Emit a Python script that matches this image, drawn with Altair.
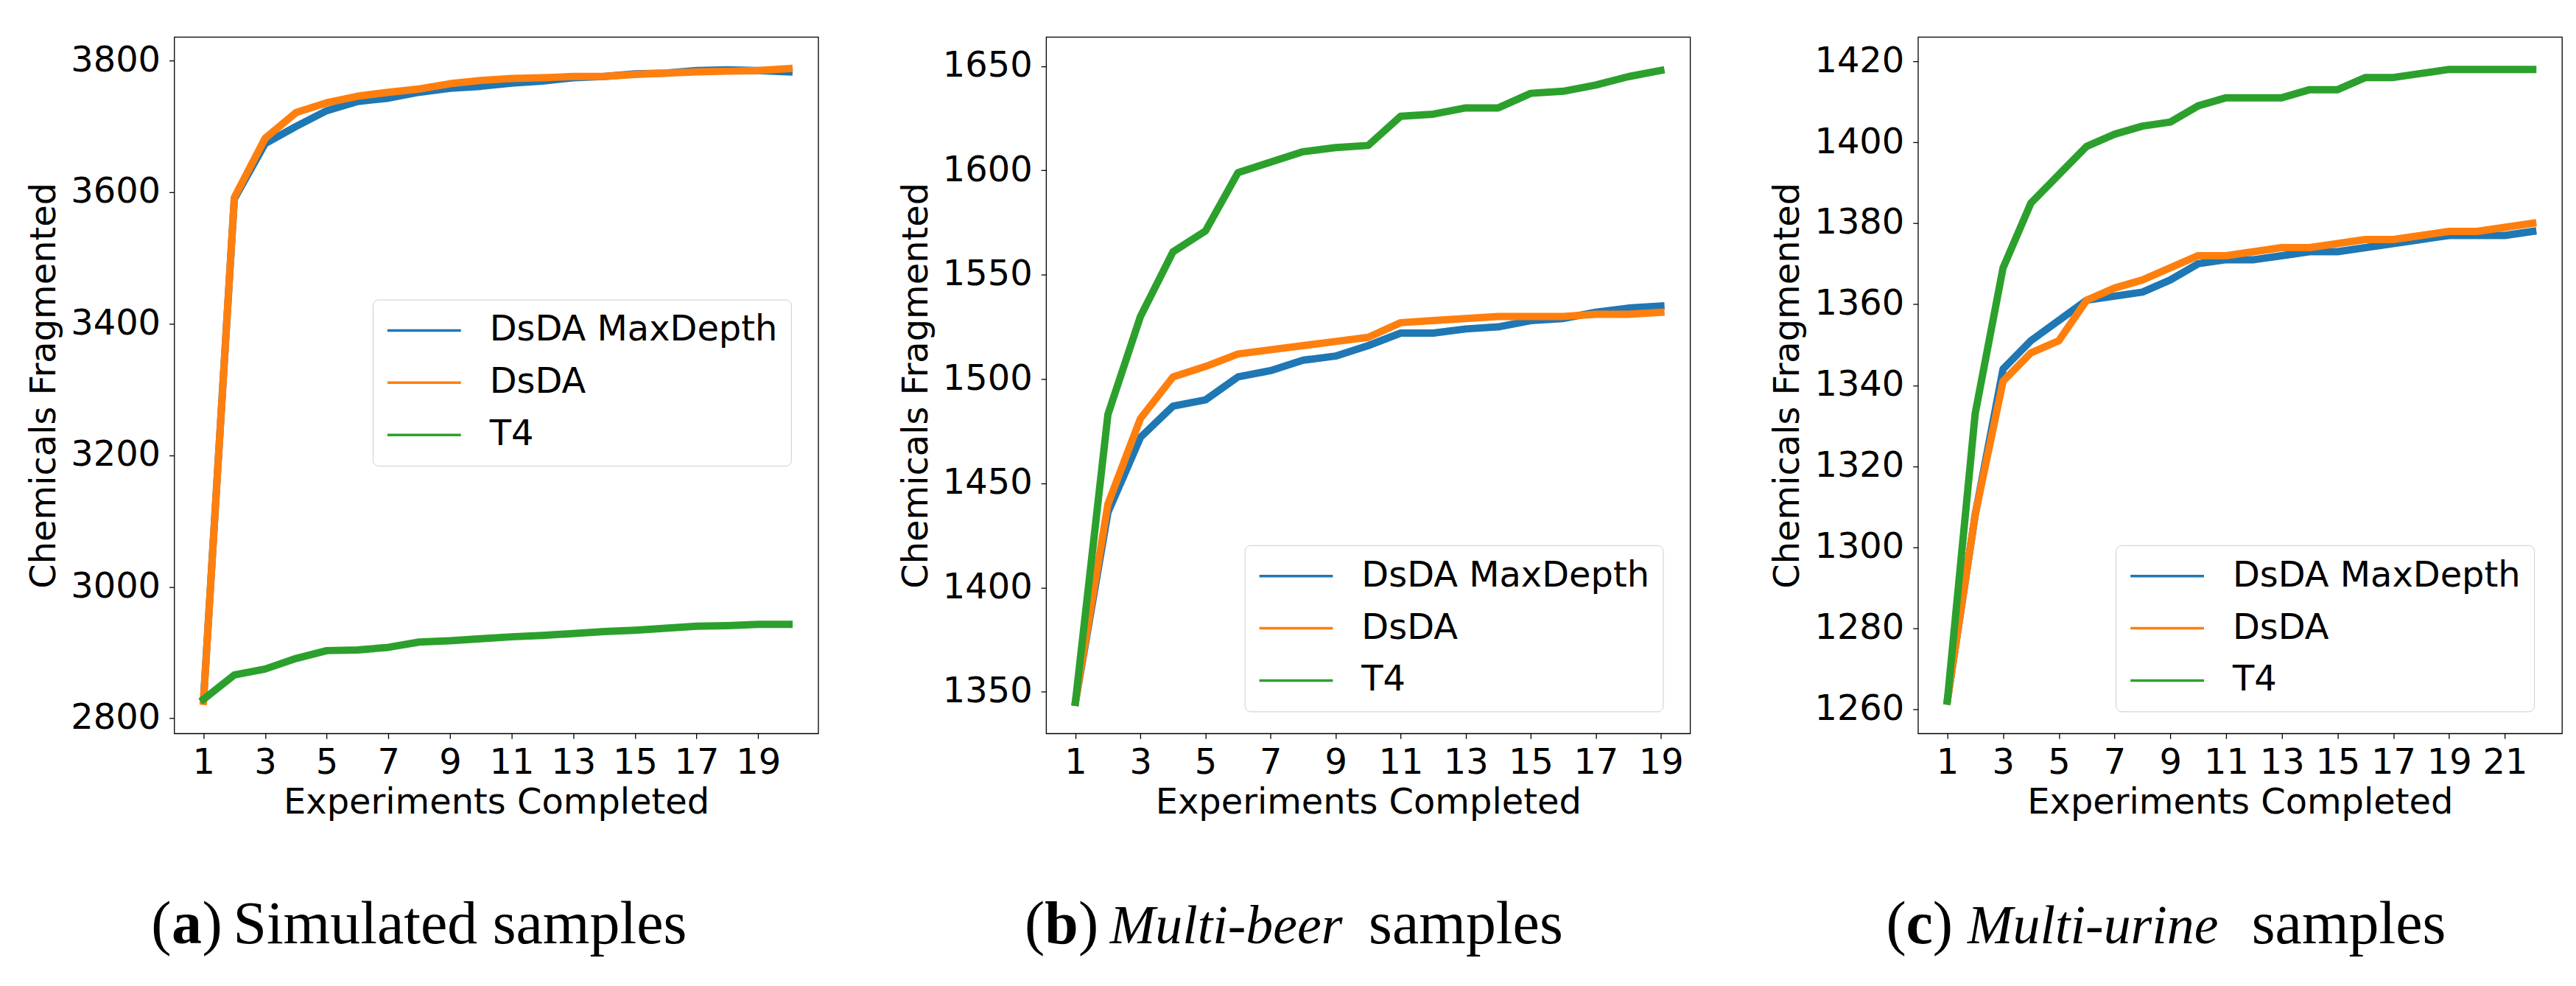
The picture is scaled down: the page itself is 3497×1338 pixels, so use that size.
import altair as alt
import pandas as pd

SERIES = ["DsDA MaxDepth", "DsDA", "T4"]
COLORS = ["#1f77b4", "#ff7f0e", "#2ca02c"]

# (a) simulated samples, 20 experiments
sim_maxdepth = [2828, 3590, 3674, 3700, 3724, 3738, 3743, 3752, 3758, 3761,
                3766, 3769, 3774, 3776, 3780, 3781, 3785, 3786, 3785, 3783]
sim_dsda = [2826, 3592, 3682, 3721, 3736, 3746, 3752, 3757, 3765, 3770,
            3773, 3774, 3776, 3776, 3779, 3781, 3783, 3784, 3785, 3788]
sim_t4 = [2829, 2866, 2875, 2891, 2903, 2904, 2908, 2916, 2918, 2921,
          2924, 2926, 2929, 2932, 2934, 2937, 2940, 2941, 2943, 2943]

# (b) multi-beer samples, 19 experiments
beer_maxdepth = [1345, 1436, 1472, 1487, 1490, 1501, 1504, 1509, 1511, 1516,
                 1522, 1522, 1524, 1525, 1528, 1529, 1532, 1534, 1535]
beer_dsda = [1345, 1440, 1481, 1501, 1506, 1512, 1514, 1516, 1518, 1520,
             1527, 1528, 1529, 1530, 1530, 1530, 1531, 1531, 1532]
beer_t4 = [1345, 1483, 1530, 1561, 1571, 1599, 1604, 1609, 1611, 1612,
           1626, 1627, 1630, 1630, 1637, 1638, 1641, 1645, 1648]

# (c) multi-urine samples, 22 experiments
urine_maxdepth = [1262, 1308, 1344, 1351, 1356, 1361, 1362, 1363, 1366, 1370, 1371,
                  1371, 1372, 1373, 1373, 1374, 1375, 1376, 1377, 1377, 1377, 1378]
urine_dsda = [1262, 1308, 1341, 1348, 1351, 1361, 1364, 1366, 1369, 1372, 1372,
              1373, 1374, 1374, 1375, 1376, 1376, 1377, 1378, 1378, 1379, 1380]
urine_t4 = [1262, 1333, 1369, 1385, 1392, 1399, 1402, 1404, 1405, 1409, 1411,
            1411, 1411, 1413, 1413, 1416, 1416, 1417, 1418, 1418, 1418, 1418]

sim_yticks = [2800, 3000, 3200, 3400, 3600, 3800]
beer_yticks = [1350, 1400, 1450, 1500, 1550, 1600, 1650]
urine_yticks = [1260, 1280, 1300, 1320, 1340, 1360, 1380, 1400, 1420]

W, H = 876, 947
SANS = "DejaVu Sans"
SERIF = "Liberation Serif"


def make_df(*cols):
    rows = []
    for name, vals in zip(SERIES, cols):
        for i, v in enumerate(vals):
            rows.append({"series": name, "exp": i + 1, "value": v})
    return pd.DataFrame(rows)


def caption(parts):
    layers = []
    for text, x, align, weight, style, size in parts:
        layers.append(
            alt.Chart(pd.DataFrame({"t": [text]})).mark_text(
                font=SERIF, fontSize=size, fontWeight=weight, fontStyle=style,
                align=align, baseline="alphabetic", color="black"
            ).encode(x=alt.value(x), y=alt.value(1232), text="t:N")
        )
    return layers


def label_parts(letter, center, half):
    # "(", bold letter, ")" built around the letter's centre
    return [("(", center - half, "right", "normal", "normal", 82),
            (letter, center, "center", "bold", "normal", 82),
            (")", center + half, "left", "normal", "normal", 82)]


def panel(df, xdom, xticks, ydom, yticks, leg_x, leg_y, cap):
    x = alt.X("exp:Q", scale=alt.Scale(domain=xdom, nice=False, zero=False),
              axis=alt.Axis(values=xticks, title="Experiments Completed", grid=False,
                            labelPadding=9, titlePadding=6))
    y = alt.Y("value:Q", scale=alt.Scale(domain=ydom, nice=False, zero=False),
              axis=alt.Axis(values=yticks, format="d", title="Chemicals Fragmented",
                            grid=False, labelPadding=12, titlePadding=11))
    color = alt.Color("series:N", scale=alt.Scale(domain=SERIES, range=COLORS),
                      legend=alt.Legend(orient="none", legendX=leg_x, legendY=leg_y,
                                        title=None, symbolType="stroke", symbolSize=10000,
                                        symbolStrokeWidth=3.5, labelFontSize=48,
                                        labelFont=SANS, labelColor="black", labelLimit=700,
                                        labelOffset=37, rowPadding=23, padding=18,
                                        clipHeight=48, fillColor="white",
                                        strokeColor="#cccccc", cornerRadius=8))
    lines = [
        alt.Chart(df).transform_filter(alt.datum.series == name)
        .mark_line(strokeWidth=10, strokeJoin="round", strokeCap="square")
        .encode(x=x, y=y, color=color)
        for name in SERIES
    ]
    return alt.layer(*lines, *caption(cap)).properties(width=W, height=H)


pa = panel(make_df(sim_maxdepth, sim_dsda, sim_t4), [0.05, 20.95],
           list(range(1, 20, 2)), [2777, 3836], sim_yticks, 270, 357,
           label_parts("a", 17, 21)
           + [("Simulated samples", 80, "left", "normal", "normal", 82)])

pb = panel(make_df(beer_maxdepth, beer_dsda, beer_t4), [0.1, 19.9],
           list(range(1, 20, 2)), [1330, 1664], beer_yticks, 270, 691,
           label_parts("b", 21, 23)
           + [("Multi-beer", 245, "center", "normal", "italic", 74),
              ("samples", 703, "right", "normal", "normal", 82)])

pc = panel(make_df(urine_maxdepth, urine_dsda, urine_t4), [-0.05, 23.05],
           list(range(1, 22, 2)), [1254, 1426], urine_yticks, 269, 691,
           label_parts("c", 2, 18)
           + [("Multi-urine", 238, "center", "normal", "italic", 74),
              ("samples", 718, "right", "normal", "normal", 82)])

chart = alt.hconcat(pa, pb, pc, spacing=108).resolve_scale(
    color="independent"
).resolve_legend(
    color="independent"
).properties(
    padding={"left": 28, "top": 40, "right": 10, "bottom": 10}
).configure_view(
    stroke="black", strokeWidth=1.3
).configure_axis(
    domain=False, tickSize=7, tickColor="black", tickWidth=1.3,
    labelFont=SANS, labelFontSize=48, labelColor="black",
    titleFont=SANS, titleFontSize=48, titleFontWeight="normal", titleColor="black"
)

chart.save("out.html", embed_options={"renderer": "svg", "actions": False})
